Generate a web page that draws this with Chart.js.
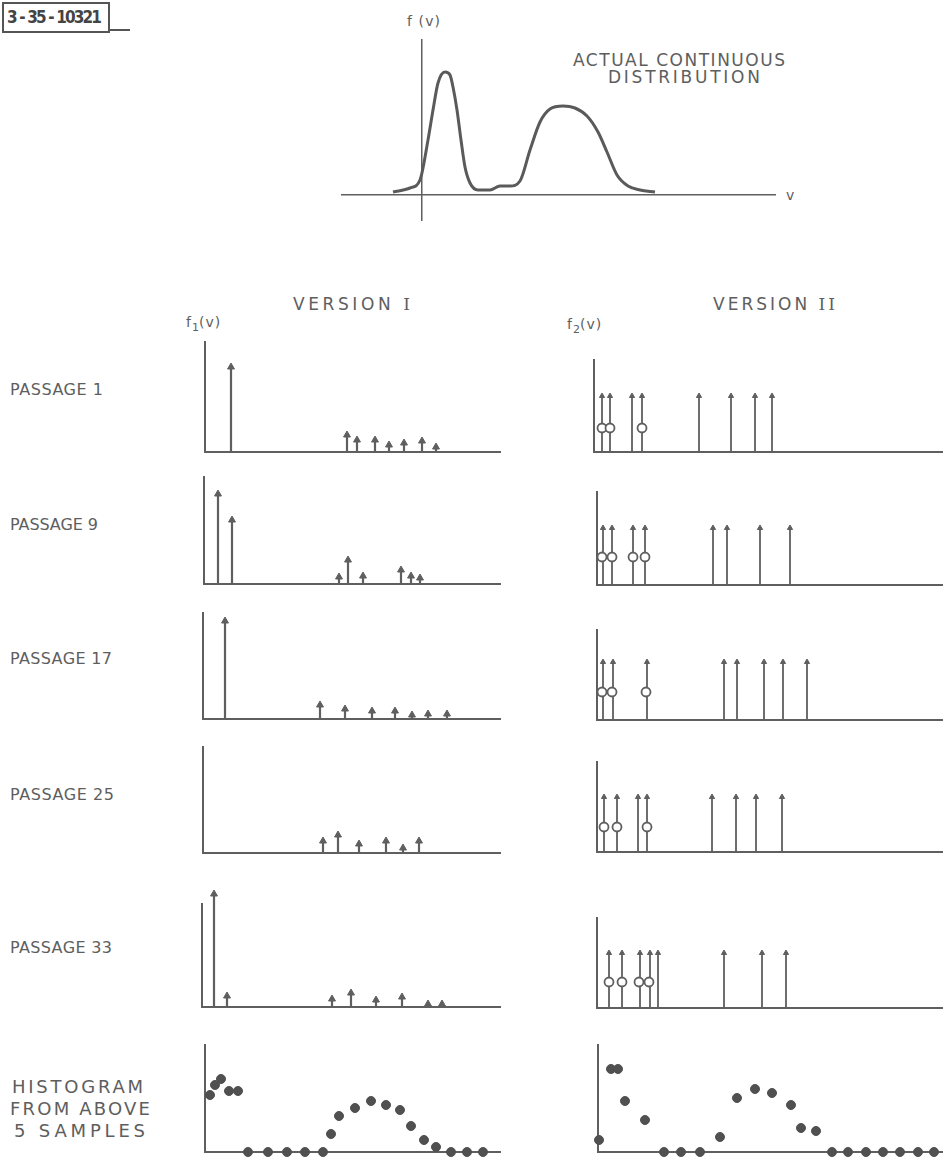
<!DOCTYPE html>
<html>
<head>
<meta charset="utf-8">
<script src="https://cdn.jsdelivr.net/npm/chart.js@4/dist/chart.umd.min.js"></script>
<style>
  body { margin: 0; background: #fff; }
  #page { position: relative; width: 949px; height: 1164px; overflow: hidden;
          font-family: "DejaVu Sans", sans-serif; color: #5e5e5e; }
  .lbl { position: absolute; font-size: 16px; white-space: nowrap; line-height: 1; transform: translateY(-50%); }
  .big { font-size: 17px; }
  .hist { font-size: 18px; }
  .num { font-family: "DejaVu Serif", serif; }
  .panel { position: absolute; }
  #tag { position: absolute; left: 2px; top: 2px; width: 104px; height: 27px; border: 2px solid #555; }
  #tagtxt { position: absolute; left: 7px; top: 17px; font-family: "DejaVu Sans Condensed", "DejaVu Sans", sans-serif;
            font-weight: bold; font-size: 17px; color: #444; }
  #tagline { position: absolute; left: 108px; top: 29px; width: 22px; height: 2px; background: #555; }
  sub { font-size: 11px; letter-spacing: 0; }
</style>
</head>
<body>
<div id="page">
  <div id="tag"></div>
  <div id="tagline"></div>
  <div class="lbl" id="tagtxt" data-w="95">3 - 35 - 10321</div>

  <div class="lbl" style="left:407px;top:21px;font-size:14px" data-w="33">f (v)</div>
  <div class="lbl" style="left:786px;top:195px;font-size:14px">v</div>
  <div class="lbl big" style="left:573px;top:60px" data-w="212">ACTUAL CONTINUOUS</div>
  <div class="lbl big" style="left:608px;top:77px" data-w="152">DISTRIBUTION</div>

  <div class="lbl big" style="left:293px;top:304px" data-w="117">VERSION <span class="num">I</span></div>
  <div class="lbl big" style="left:713px;top:304px" data-w="122">VERSION <span class="num">II</span></div>
  <div class="lbl" style="left:186px;top:324px;letter-spacing:1px;font-size:14px">f<sub>1</sub>(v)</div>
  <div class="lbl" style="left:567px;top:326px;letter-spacing:1px;font-size:14px">f<sub>2</sub>(v)</div>

  <div class="lbl" style="left:10px;top:390px" data-w="93">PASSAGE 1</div>
  <div class="lbl" style="left:10px;top:525px" data-w="88">PASSAGE 9</div>
  <div class="lbl" style="left:10px;top:659px" data-w="102">PASSAGE 17</div>
  <div class="lbl" style="left:10px;top:795px" data-w="104">PASSAGE 25</div>
  <div class="lbl" style="left:10px;top:948px" data-w="102">PASSAGE 33</div>
  <div class="lbl hist" style="left:12px;top:1087px" data-w="131">HISTOGRAM</div>
  <div class="lbl hist" style="left:10px;top:1109px" data-w="140">FROM ABOVE</div>
  <div class="lbl hist" style="left:14px;top:1131px" data-w="131">5 SAMPLES</div>
</div>
<script>
const page = document.getElementById('page');
const ink = '#5f5f5f';
const PAD = 26;

// actual continuous distribution f(v)
const curveV = [-1.16, -0.48, -0.08, 0.24, 0.44, 0.64, 0.92, 1.12, 1.24, 1.4, 1.56, 1.72, 1.92, 2.24, 2.72, 3.12, 3.52, 3.92, 4.32, 4.72, 5.12, 5.64, 6.12, 6.6, 7.04, 7.4, 7.8, 8.24, 8.72, 9.32];
const curveF = [0.12, 0.28, 0.6, 2.2, 3.4, 4.48, 4.92, 4.8, 4.32, 3.4, 2.2, 1.12, 0.48, 0.2, 0.2, 0.36, 0.36, 0.56, 1.8, 2.92, 3.44, 3.56, 3.48, 3.16, 2.52, 1.72, 0.8, 0.36, 0.2, 0.12];

// version I samples: arrow positions and weights, per passage
const v1Pass1X = [26, 142, 152, 170, 184, 199, 217, 231];
const v1Pass1Y = [85, 17, 12, 12, 7, 9, 11, 5];
const v1Pass9X = [14, 28, 135, 144, 159, 197, 207, 216];
const v1Pass9Y = [90, 64, 7, 24, 8, 14, 8, 6];
const v1Pass17X = [22, 117, 142, 169, 192, 209, 225, 244];
const v1Pass17Y = [98, 14, 10, 8, 8, 4, 5, 5];
const v1Pass25X = [120, 135, 156, 183, 200, 216];
const v1Pass25Y = [12, 18, 9, 12, 5, 12];
const v1Pass33X = [12, 25, 130, 149, 174, 200, 226, 240];
const v1Pass33Y = [113, 11, 8, 14, 7, 10, 3, 3];

// version II samples: arrow positions, common height, and circled points
const v2Pass1X = [8, 16, 38, 48, 105, 137, 161, 178];
const v2Pass1C = [8, 16, 48];
const v2Pass9X = [6, 15, 36, 48, 116, 130, 163, 193];
const v2Pass9C = [5, 15, 36, 48];
const v2Pass17X = [6, 16, 50, 127, 140, 167, 186, 210];
const v2Pass17C = [5, 15, 49];
const v2Pass25X = [7, 20, 41, 50, 115, 139, 159, 185];
const v2Pass25C = [7, 20, 50];
const v2Pass33X = [12, 25, 43, 53, 61, 127, 165, 189];
const v2Pass33C = [12, 25, 42, 52];
const v2ArrowY = [56, 57, 58, 55, 55];
const v2CircleY = [24, 28, 28, 25, 26];

// histograms from the 5 samples
const hist1X = [5, 10, 16, 24, 33, 43, 63, 82, 100, 118, 126, 134, 150, 166, 181, 195, 206, 219, 231, 246, 262, 278];
const hist1Y = [57, 67, 73, 61, 61, 0, 0, 0, 0, 0, 18, 36, 44, 51, 47, 42, 26, 12, 5, 0, 0, 0];
const hist2X = [1, 13, 20, 27, 47, 66, 83, 102, 122, 139, 157, 174, 193, 203, 218, 234, 250, 268, 285, 302, 320, 336];
const hist2Y = [12, 83, 83, 51, 32, 0, 0, 0, 15, 54, 63, 59, 47, 24, 21, 0, 0, 0, 0, 0, 0, 0];

// stretch lettering to the widths it has in the drawing
document.querySelectorAll('[data-w]').forEach(el => {
  el.style.letterSpacing = '0px';
  const natural = el.getBoundingClientRect().width;
  const n = el.textContent.length;
  const ls = (+el.dataset.w - natural) / (n - 1);
  el.style.letterSpacing = ls.toFixed(2) + 'px';
});

function axis(min, max, extra) {
  return Object.assign({
    type: 'linear', min: min, max: max,
    ticks: { display: false },
    grid: { display: false, drawTicks: false },
    border: { color: ink, width: 2 },
  }, extra || {});
}

function panel(ox, oy, w, h, xRange, yRange, datasets, xExtra, yExtra) {
  const div = document.createElement('div');
  div.className = 'panel';
  div.style.left = (ox - PAD) + 'px';
  div.style.top = (oy - h - PAD) + 'px';
  div.style.width = (w + 2 * PAD) + 'px';
  div.style.height = (h + 2 * PAD) + 'px';
  const cv = document.createElement('canvas');
  div.appendChild(cv);
  page.appendChild(div);
  return new Chart(cv, {
    type: 'scatter',
    data: { datasets: datasets },
    options: {
      responsive: true,
      maintainAspectRatio: false,
      animation: false,
      events: [],
      layout: { padding: PAD },
      plugins: { legend: { display: false }, tooltip: { enabled: false } },
      scales: {
        x: axis(xRange[0], xRange[1], xExtra),
        y: axis(yRange[0], yRange[1], yExtra),
      },
    },
  });
}

function arrows(xs, ys, r, lw) {
  const pts = [];
  xs.forEach((x, i) => {
    const y = Array.isArray(ys) ? ys[i] : ys;
    pts.push({ x: x, y: 0 }, { x: x, y: y }, { x: x, y: null });
  });
  return {
    data: pts,
    showLine: true,
    spanGaps: false,
    borderColor: ink,
    borderWidth: lw,
    backgroundColor: ink,
    pointBorderColor: ink,
    pointBackgroundColor: ink,
    pointBorderWidth: 1,
    pointStyle: 'triangle',
    pointRadius: c => (c.raw && c.raw.y > 0 ? r : 0),
    clip: false,
    order: 1,
  };
}

function circles(xs, y) {
  return {
    data: xs.map(x => ({ x: x, y: y })),
    pointStyle: 'circle',
    pointRadius: 4.5,
    pointBackgroundColor: '#fff',
    pointBorderColor: ink,
    pointBorderWidth: 1.8,
    clip: false,
    order: 0,
  };
}

function dots(xs, ys) {
  return {
    data: xs.map((x, i) => ({ x: x, y: ys[i] })),
    pointStyle: 'circle',
    pointRadius: 4.5,
    pointBackgroundColor: '#505050',
    pointBorderColor: '#505050',
    pointBorderWidth: 1,
    clip: false,
  };
}

// vertical axis drawn as a line, for a panel whose arrow rises above it
function vAxis(top) {
  return {
    data: [{ x: 0, y: 0 }, { x: 0, y: top }],
    showLine: true,
    borderColor: ink,
    borderWidth: 2,
    pointRadius: 0,
    clip: false,
    order: 2,
  };
}

// top: actual continuous distribution
panel(342, 220, 433, 180, [-3.2, 14.12], [-1, 6.2], [{
  data: curveV.map((v, i) => ({ x: v, y: curveF[i] })),
  showLine: true,
  borderColor: '#5a5a5a',
  borderWidth: 3,
  pointRadius: 0,
  cubicInterpolationMode: 'monotone',
  clip: false,
}], { position: { y: 0 }, border: { color: ink, width: 1.5 } },
   { position: { x: 0 }, border: { color: ink, width: 1.5 } });

// version I
panel(205, 452, 295, 110, [0, 295], [0, 110], [arrows(v1Pass1X, v1Pass1Y, 4, 2.2)]);
panel(204, 584, 296, 107, [0, 296], [0, 107], [arrows(v1Pass9X, v1Pass9Y, 4, 2.2)]);
panel(203, 719, 297, 106, [0, 297], [0, 106], [arrows(v1Pass17X, v1Pass17Y, 4, 2.2)]);
panel(203, 853, 297, 106, [0, 297], [0, 106], [arrows(v1Pass25X, v1Pass25Y, 4, 2.2)]);
panel(202, 1007, 298, 124, [0, 298], [0, 124], [vAxis(104), arrows(v1Pass33X, v1Pass33Y, 4, 2.2)],
      null, { border: { display: false } });
panel(205, 1152, 295, 107, [0, 295], [0, 107], [dots(hist1X, hist1Y)]);

// version II
panel(594, 452, 348, 92, [0, 348], [0, 92], [circles(v2Pass1C, v2CircleY[0]), arrows(v2Pass1X, v2ArrowY[0], 3, 1.8)]);
panel(597, 585, 345, 93, [0, 345], [0, 93], [circles(v2Pass9C, v2CircleY[1]), arrows(v2Pass9X, v2ArrowY[1], 3, 1.8)]);
panel(597, 720, 345, 90, [0, 345], [0, 90], [circles(v2Pass17C, v2CircleY[2]), arrows(v2Pass17X, v2ArrowY[2], 3, 1.8)]);
panel(597, 852, 345, 90, [0, 345], [0, 90], [circles(v2Pass25C, v2CircleY[3]), arrows(v2Pass25X, v2ArrowY[3], 3, 1.8)]);
panel(597, 1008, 345, 90, [0, 345], [0, 90], [circles(v2Pass33C, v2CircleY[4]), arrows(v2Pass33X, v2ArrowY[4], 3, 1.8)]);
panel(598, 1152, 344, 107, [0, 344], [0, 107], [dots(hist2X, hist2Y)]);
</script>
</body>
</html>
